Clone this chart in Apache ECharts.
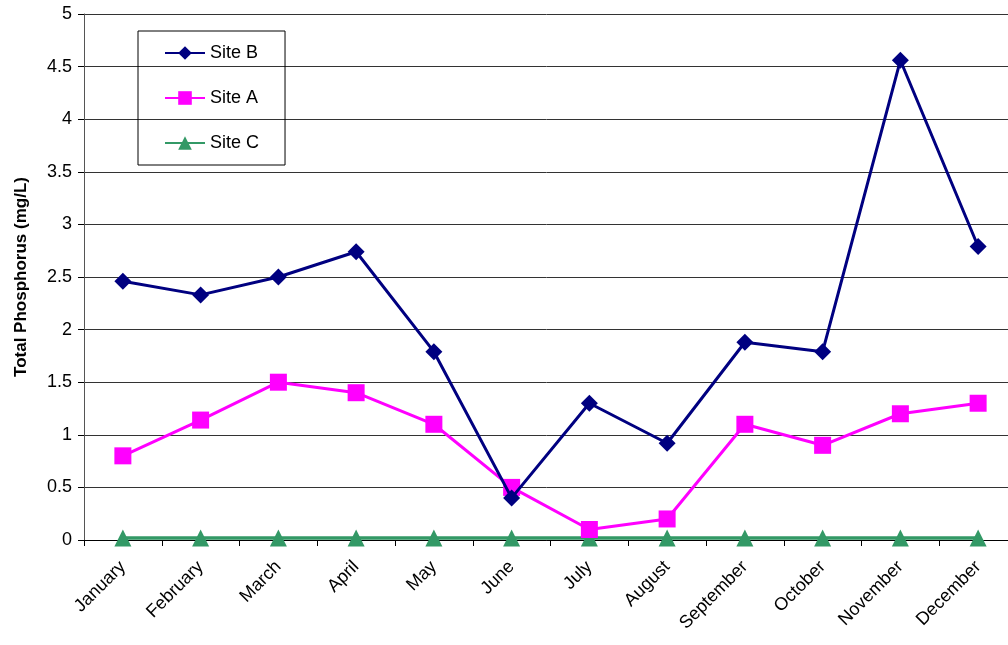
<!DOCTYPE html>
<html>
<head>
<meta charset="utf-8">
<script src="https://cdn.jsdelivr.net/npm/echarts@6/dist/echarts.min.js"></script>
<style>
  html, body { margin: 0; padding: 0; background: #fff; }
  #chart { width: 1008px; height: 645px; }
</style>
</head>
<body>
<div id="chart"></div>
<script>
var months = ['January', 'February', 'March', 'April', 'May', 'June', 'July', 'August', 'September', 'October', 'November', 'December'];
var siteB = [2.46, 2.33, 2.50, 2.74, 1.79, 0.40, 1.30, 0.92, 1.88, 1.79, 4.56, 2.79];
var siteA = [0.80, 1.14, 1.50, 1.40, 1.10, 0.50, 0.10, 0.20, 1.10, 0.90, 1.20, 1.30];
var siteC = [0.02, 0.02, 0.02, 0.02, 0.02, 0.02, 0.02, 0.02, 0.02, 0.02, 0.02, 0.02];

var font = 'Liberation Sans, Arial, sans-serif';
var chart = echarts.init(document.getElementById('chart'));

chart.setOption({
  animation: false,
  textStyle: { fontFamily: font },
  legend: {
    orient: 'vertical',
    left: 138,
    top: 31,
    padding: [13, 26, 13, 26],
    itemGap: 27,
    itemWidth: 40,
    itemHeight: 17,
    borderColor: '#000',
    borderWidth: 1,
    borderRadius: 0,
    textStyle: { fontSize: 18, color: '#000', fontFamily: font },
    data: ['Site B', 'Site A', 'Site C']
  },
  grid: { left: 84, top: 14, width: 933, height: 526, outerBoundsMode: 'none', containLabel: false },
  xAxis: {
    type: 'category',
    data: months,
    boundaryGap: true,
    axisLine: { lineStyle: { color: '#000', width: 1 } },
    axisTick: { show: true, alignWithLabel: false, length: 6, lineStyle: { color: '#000' } },
    axisLabel: { rotate: 45, interval: 0, fontSize: 18, color: '#000', margin: 24, fontFamily: font }
  },
  yAxis: {
    type: 'value',
    min: 0,
    max: 5,
    interval: 0.5,
    name: 'Total Phosphorus (mg/L)',
    nameLocation: 'middle',
    nameGap: 54,
    nameTextStyle: { fontSize: 17, fontWeight: 'bold', color: '#000', fontFamily: font },
    axisLine: { show: true, lineStyle: { color: '#555', width: 1 } },
    axisTick: { show: true, length: 6, lineStyle: { color: '#000' } },
    axisLabel: { fontSize: 18, color: '#000', margin: 12, fontFamily: font },
    splitLine: { show: true, lineStyle: { color: '#333', width: 1 } }
  },
  series: [
    {
      name: 'Site B',
      type: 'line',
      data: siteB,
      symbol: 'diamond',
      symbolSize: 17,
      color: '#000080',
      lineStyle: { width: 3, color: '#000080' },
      z: 4
    },
    {
      name: 'Site A',
      type: 'line',
      data: siteA,
      symbol: 'rect',
      symbolSize: 17,
      color: '#FF00FF',
      lineStyle: { width: 3, color: '#FF00FF' },
      z: 3
    },
    {
      name: 'Site C',
      type: 'line',
      data: siteC,
      symbol: 'triangle',
      symbolSize: 17,
      color: '#339966',
      lineStyle: { width: 3.5, color: '#339966' },
      z: 2
    }
  ]
});
</script>
</body>
</html>
